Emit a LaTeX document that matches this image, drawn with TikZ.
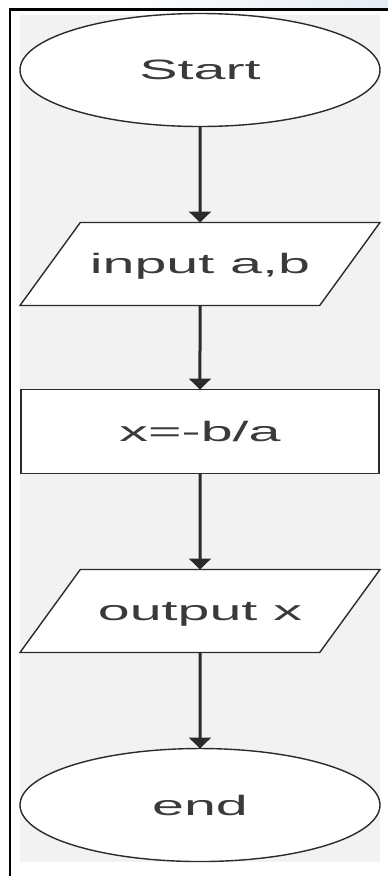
\documentclass[tikz,border=0pt]{standalone}
\usepackage{fontspec}
\newfontfamily\flowfont{Liberation Sans}[FakeStretch=2.05]
\usepackage{tikz}
\usetikzlibrary{positioning}
\usetikzlibrary{shapes.geometric}
\usetikzlibrary{arrows.meta}
\definecolor{linegrey}{HTML}{2B2B2B}
\definecolor{textgrey}{HTML}{3A3A3A}
\definecolor{panelgrey}{HTML}{F2F2F2}
\definecolor{topblue}{HTML}{E4EBF3}

\begin{document}
\begin{tikzpicture}[x=1pt, y=-1pt,
				terminal/.style={draw=linegrey, ellipse, fill=white, line width=1.4pt, minimum width=360pt, minimum height=113pt, inner sep=0pt, outer sep=0pt},
				io/.style={draw=linegrey, trapezium, trapezium left angle=54, trapezium right angle=126, trapezium stretches body=true, fill=white, line width=1.4pt, minimum width=360pt, text height=22pt, text depth=4pt, inner ysep=28.5pt, outer sep=0pt},
				process/.style={draw=linegrey, rectangle, fill=white, line width=1.4pt, minimum width=358pt, minimum height=84pt, inner sep=0pt, outer sep=0pt},
				every node/.style={font=\flowfont\fontsize{28}{32}\selectfont, text=textgrey},
				flow/.style={draw=linegrey, line width=3pt, -{Triangle[width=22pt, length=11pt]}}]
				\useasboundingbox (0,0) rectangle (388,876);
				% frame and panel
				\shade[left color=white, right color=topblue] (120,0) rectangle (388,8);
				\fill[panelgrey] (20,15) rectangle (380,862);
				\draw[black, line width=2.5pt] (10,876) -- (10,9.5) -- (388,9.5);
				
				\node[terminal](node1) at (200, 70) {Start};
				\node[io, below=96pt of node1](node2) {input a,b};
				\node[process, below=84pt of node2](node3) {x=-b/a};
				\node[io, below=96pt of node3](node4) {output x};
				\node[terminal, below=96pt of node4](node5) {end};
				
				\draw[flow] (node1) -- (node2);
				\draw[flow] (node2) -- (node3);
				\draw[flow] (node3) -- (node4);
				\draw[flow] (node4) -- (node5);
			\end{tikzpicture}
\end{document}
